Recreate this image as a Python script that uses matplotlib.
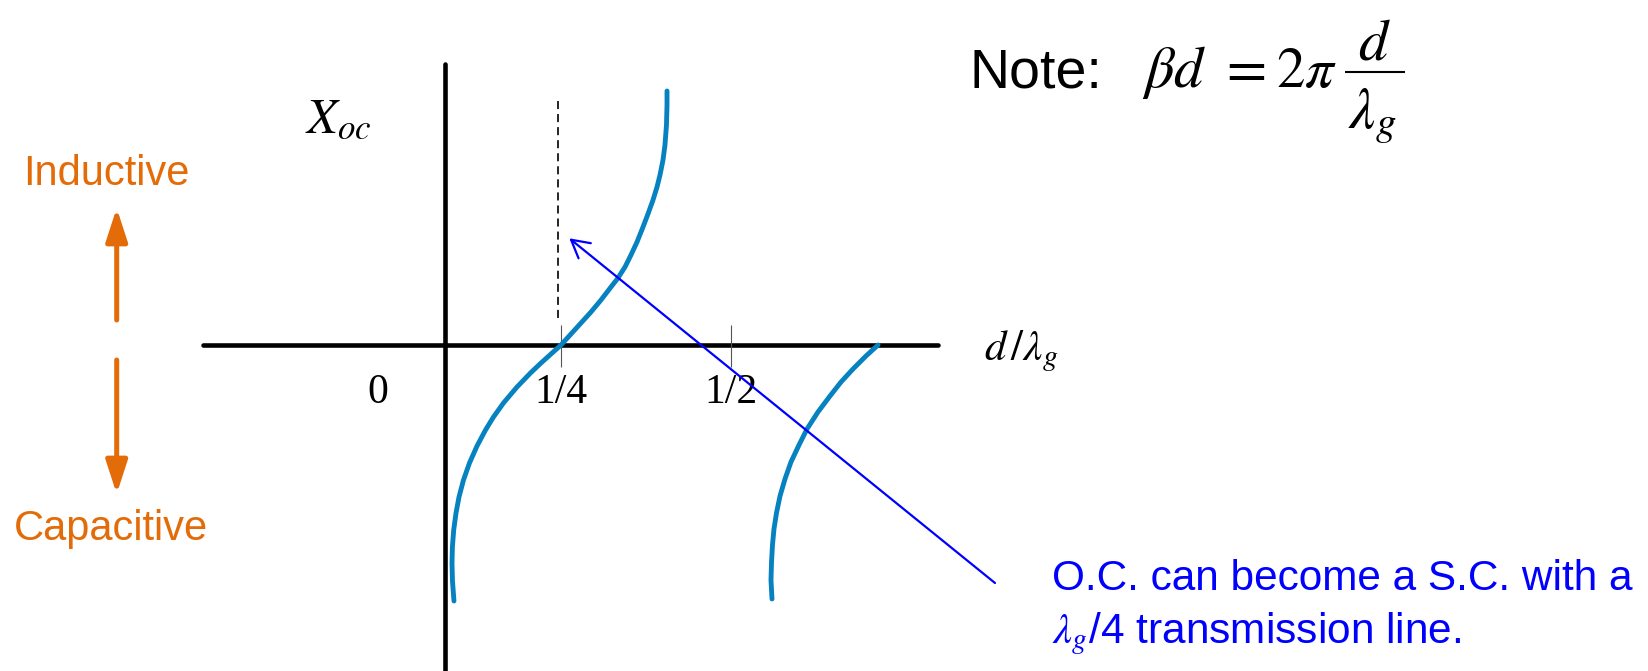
import matplotlib
matplotlib.use("Agg")
import matplotlib.pyplot as plt

plt.rcParams['mathtext.fontset'] = 'stix'
plt.rcParams['font.family'] = ['Liberation Sans', 'DejaVu Sans']
plt.rcParams['lines.scale_dashes'] = False

# ---------------- data ----------------
# first branch of X_oc versus d/lambda_g
d_branch1 = [0.0926, 0.0904, 0.0897, 0.0903, 0.0922, 0.0956, 0.1000, 0.1066, 0.1154,
             0.1265, 0.1390, 0.1507, 0.1654, 0.1853, 0.2051, 0.2206, 0.2353, 0.25,
             0.2647, 0.2794, 0.2941, 0.3088, 0.3235, 0.3338, 0.3441, 0.3529, 0.3618,
             0.3706, 0.3779, 0.3853, 0.3912, 0.3956, 0.4000, 0.4029, 0.4051, 0.4059, 0.4059]
x_branch1 = [-2.56, -2.36, -2.18, -2.02, -1.85, -1.68, -1.52, -1.35, -1.18,
             -1.01, -0.85, -0.72, -0.58, -0.42, -0.28, -0.18, -0.09, 0.0,
             0.11, 0.22, 0.33, 0.45, 0.58, 0.67, 0.78, 0.90, 1.03,
             1.18, 1.31, 1.45, 1.58, 1.70, 1.85, 2.00, 2.20, 2.40, 2.54]
# second branch
d_branch2 = [0.5603, 0.5588, 0.5596, 0.5610, 0.5632, 0.5669, 0.5721, 0.5794, 0.5882,
             0.6000, 0.6118, 0.6279, 0.6456, 0.6618, 0.6794, 0.6985, 0.7162]
x_branch2 = [-2.54, -2.35, -2.17, -2.00, -1.84, -1.68, -1.51, -1.34, -1.17,
             -1.00, -0.84, -0.67, -0.51, -0.37, -0.24, -0.11, 0.0]

tick_values = [0.25, 0.5]
tick_labels = ['1/4', '1/2']
zero_label = '0'

# ---------------- figure ----------------
W, H = 1649, 671
fig = plt.figure(figsize=(W / 100, H / 100), dpi=100)
ax = fig.add_axes([0, 0, 1, 1])
X0PIX, XSCALE = 391.0, 680.0     # pixel of d=0, pixels per unit d
Y0PIX, YSCALE = 345.0, 100.0     # pixel of X=0, pixels per unit X
ax.set_xlim(-X0PIX / XSCALE, (W - X0PIX) / XSCALE)
ax.set_ylim((Y0PIX - H) / YSCALE, Y0PIX / YSCALE)
ax.axis('off')


def P(xp, yp):
    """layout helper: picture pixel -> data coordinates"""
    return ((xp - X0PIX) / XSCALE, (Y0PIX - yp) / YSCALE)


orange = '#E36C09'
curve_col = '#0782C1'
blue = '#0000FF'

# axes lines
hx0, _ = P(203, 0)
hx1, _ = P(938, 0)
ax.plot([hx0, hx1], [0, 0], color='black', lw=3.3, solid_capstyle='round', zorder=2)
vx, vtop = P(445, 64)
ax.plot([vx, vx], [vtop, -4], color='black', lw=3.3, solid_capstyle='round', zorder=2)

# tick marks
ax.vlines(tick_values, -0.22, 0.2, color='#555555', lw=0.8, zorder=3)

# dashed guide at 1/4
dx_dash, dtop = P(558, 101)
ax.plot([dx_dash, dx_dash], [dtop, 0.25], color='black', lw=1.2, dashes=(5.8, 3.6), zorder=2)

# curves
for dd, xx in [(d_branch1, x_branch1), (d_branch2, x_branch2)]:
    ax.plot(dd, xx, color=curve_col, lw=3.5, solid_capstyle='round',
            solid_joinstyle='round', zorder=4)

# tick labels
_, lab_y = P(0, 403)
for v, lab in zip(tick_values, tick_labels):
    ax.text(v, lab_y, lab, ha='center', va='baseline', fontsize=30,
            family='Liberation Serif', zorder=5)
ax.text(P(378, 0)[0], lab_y, zero_label, ha='center', va='baseline', fontsize=30,
        family='Liberation Serif')

# blue arrow
ax.annotate('', xy=P(569.3, 238.3), xytext=P(995, 583),
            arrowprops=dict(arrowstyle='->,head_length=12.6,head_width=7', color=blue,
                            lw=1.6, mutation_scale=1, shrinkA=0, shrinkB=0), zorder=5)

# orange arrows
for start, end in [((116.7, 320), (116.7, 208)), ((116.7, 360), (116.7, 494))]:
    ax.annotate('', xy=P(*end), xytext=P(*start),
                arrowprops=dict(arrowstyle='-|>,head_length=20,head_width=6.5',
                                color=orange, lw=3.6, mutation_scale=1,
                                shrinkA=0, shrinkB=0, capstyle='round'))

# note with formula
ax.text(*P(970, 87), 'Note:', fontsize=40, va='baseline', ha='left')
ax.text(*P(1142, 87), r'$\beta d$', fontsize=42, va='baseline', ha='left')
ax.text(*P(1226, 87), '=', fontsize=42, va='baseline', ha='left', family='STIXGeneral')
ax.text(*P(1276, 87), r'$2\pi$', fontsize=41, va='baseline', ha='left')
ax.text(*P(1374, 59), r'$d$', fontsize=42, va='baseline', ha='center')
bx0, by = P(1345, 71.5)
bx1, _ = P(1405, 71.5)
ax.plot([bx0, bx1], [by, by], color='black', lw=1.5, solid_capstyle='butt')
ax.text(*P(1348, 128), r'$\lambda_g$', fontsize=42, va='baseline', ha='left')

# axis labels
ax.text(*P(305, 132), r'$X_{oc}$', fontsize=36, va='baseline', ha='left')
ax.text(*P(984, 360), r'$d\,/\lambda_g$', fontsize=31, va='baseline', ha='left')

# side labels
ax.text(*P(106.5, 185), 'Inductive', fontsize=30, color=orange, ha='center', va='baseline')
ax.text(*P(110.5, 540), 'Capacitive', fontsize=30, color=orange, ha='center', va='baseline')

# blue note
ax.text(*P(1052, 590), 'O.C. can become a S.C. with a', fontsize=30.5, color=blue,
        va='baseline', ha='left')
ax.text(*P(1052, 643), r'$\lambda_g$/4 transmission line.', fontsize=30.5, color=blue,
        va='baseline', ha='left')

fig.savefig('out.png', dpi=100)
